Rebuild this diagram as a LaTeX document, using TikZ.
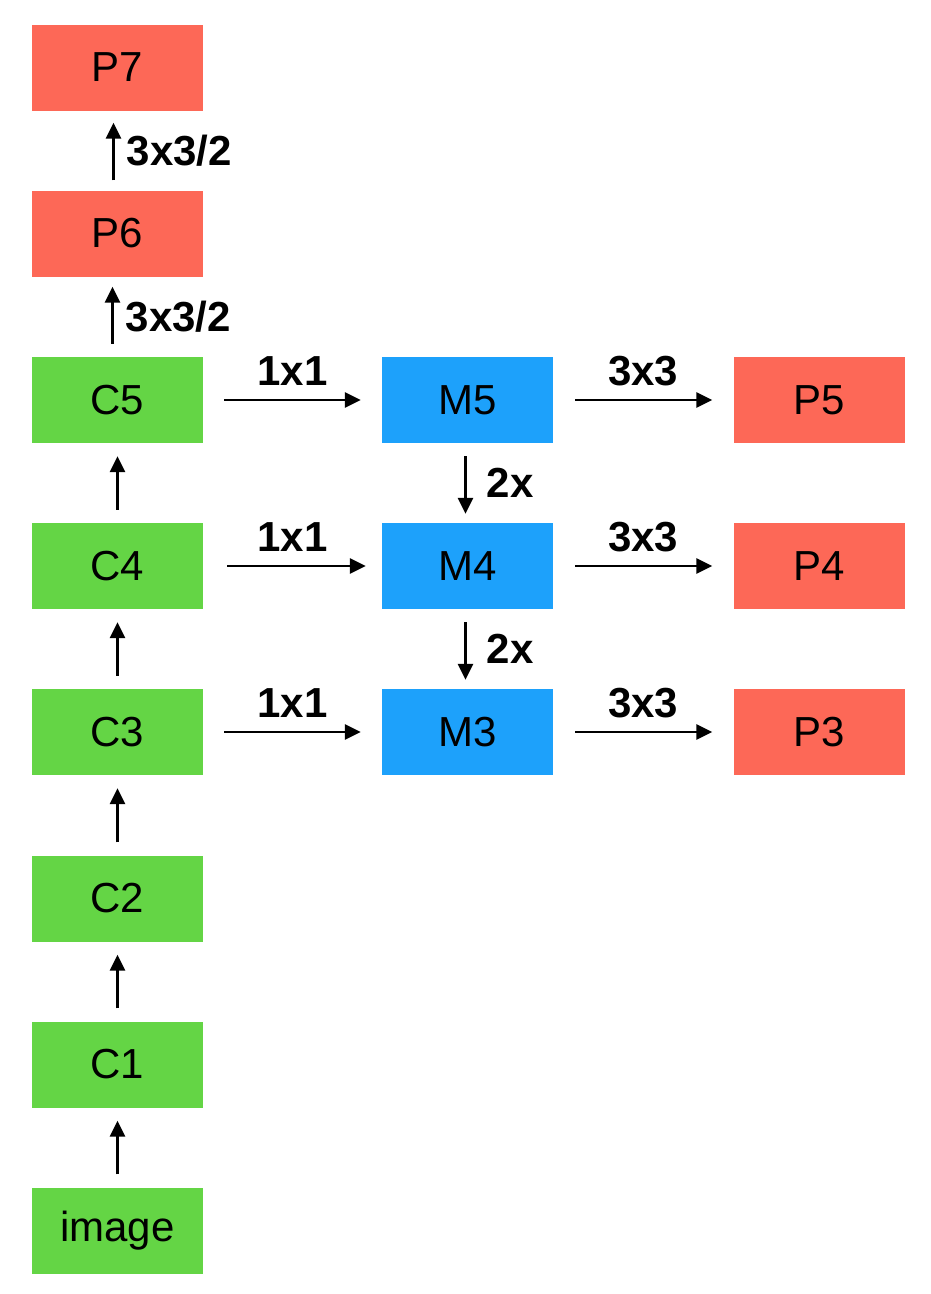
\documentclass[tikz,border=0pt]{standalone}
\usepackage{fontspec}
\setmainfont{Liberation Sans}
\usetikzlibrary{arrows.meta}

\definecolor{cgreen}{HTML}{64D545}
\definecolor{mblue}{HTML}{1DA1FB}
\definecolor{pred}{HTML}{FD6857}

\tikzset{
  box/.style={minimum width=171pt, minimum height=86pt, inner sep=0pt,
              font=\fontsize{42}{50}\selectfont},
  cbox/.style={box, fill=cgreen},
  mbox/.style={box, fill=mblue},
  pbox/.style={box, fill=pred},
  arr/.style={line width=2.6pt, -{Triangle[length=16pt,width=15pt]}},
  lbl/.style={font=\fontsize{42}{50}\selectfont\bfseries, inner sep=0pt}
}

\begin{document}
\begin{tikzpicture}[x=1pt, y=-1pt]
        \useasboundingbox (0,0) rectangle (930,1294);
        % left column
        \node [pbox] (p7)  at (117.5,67.5)   {P7};
        \node [pbox] (p6)  at (117.5,233.5)  {P6};
        \node [cbox] (c5)  at (117.5,400)    {C5};
        \node [cbox] (c4)  at (117.5,566)    {C4};
        \node [cbox] (c3)  at (117.5,732)    {C3};
        \node [cbox] (c2)  at (117.5,898.5)  {C2};
        \node [cbox] (c1)  at (117.5,1064.5) {C1};
        \node [cbox] (img) at (117.5,1230.5) {image};
        % middle column
        \node [mbox] (m5)  at (467.5,400)    {M5};
        \node [mbox] (m4)  at (467.5,566)    {M4};
        \node [mbox] (m3)  at (467.5,732)    {M3};
        % right column
        \node [pbox] (p5)  at (819,400)      {P5};
        \node [pbox] (p4)  at (819,566)      {P4};
        \node [pbox] (p3)  at (819,732)      {P3};

        % bottom-up path
        \draw [arr, shorten <=13pt, shorten >=13pt] (img) -- (c1);
        \draw [arr, shorten <=13pt, shorten >=13pt] (c1) -- (c2);
        \draw [arr, shorten <=13pt, shorten >=13pt] (c2) -- (c3);
        \draw [arr, shorten <=13pt, shorten >=13pt] (c3) -- (c4);
        \draw [arr, shorten <=13pt, shorten >=13pt] (c4) -- (c5);
        \draw [arr, shorten <=13pt, shorten >=10pt] ([xshift=-5pt]c5.north) -- ([xshift=-5pt]p6.south)
              node [lbl, midway, right=12pt] {3x3/2};
        \draw [arr, shorten <=10pt, shorten >=12pt] ([xshift=-4pt]p6.north) -- ([xshift=-4pt]p7.south)
              node [lbl, midway, right=12pt] {3x3/2};

        % lateral 1x1
        \draw [arr, shorten <=21pt, shorten >=21pt] (c5) -- (m5) node [lbl, midway, above=13pt] {1x1};
        \draw [arr, shorten <=24pt, shorten >=16pt] (c4) -- (m4) node [lbl, midway, above=13pt] {1x1};
        \draw [arr, shorten <=21pt, shorten >=21pt] (c3) -- (m3) node [lbl, midway, above=13pt] {1x1};

        % top-down 2x
        \draw [arr, shorten <=13pt, shorten >=9pt] ([xshift=-2pt]m5.south) -- ([xshift=-2pt]m4.north)
              node [lbl, midway, right=20pt] {2x};
        \draw [arr, shorten <=13pt, shorten >=9pt] ([xshift=-2pt]m4.south) -- ([xshift=-2pt]m3.north)
              node [lbl, midway, right=20pt] {2x};

        % output 3x3
        \draw [arr, shorten <=22pt, shorten >=21pt] (m5) -- (p5) node [lbl, midway, above=13pt] {3x3};
        \draw [arr, shorten <=22pt, shorten >=21pt] (m4) -- (p4) node [lbl, midway, above=13pt] {3x3};
        \draw [arr, shorten <=22pt, shorten >=21pt] (m3) -- (p3) node [lbl, midway, above=13pt] {3x3};
\end{tikzpicture}
\end{document}
